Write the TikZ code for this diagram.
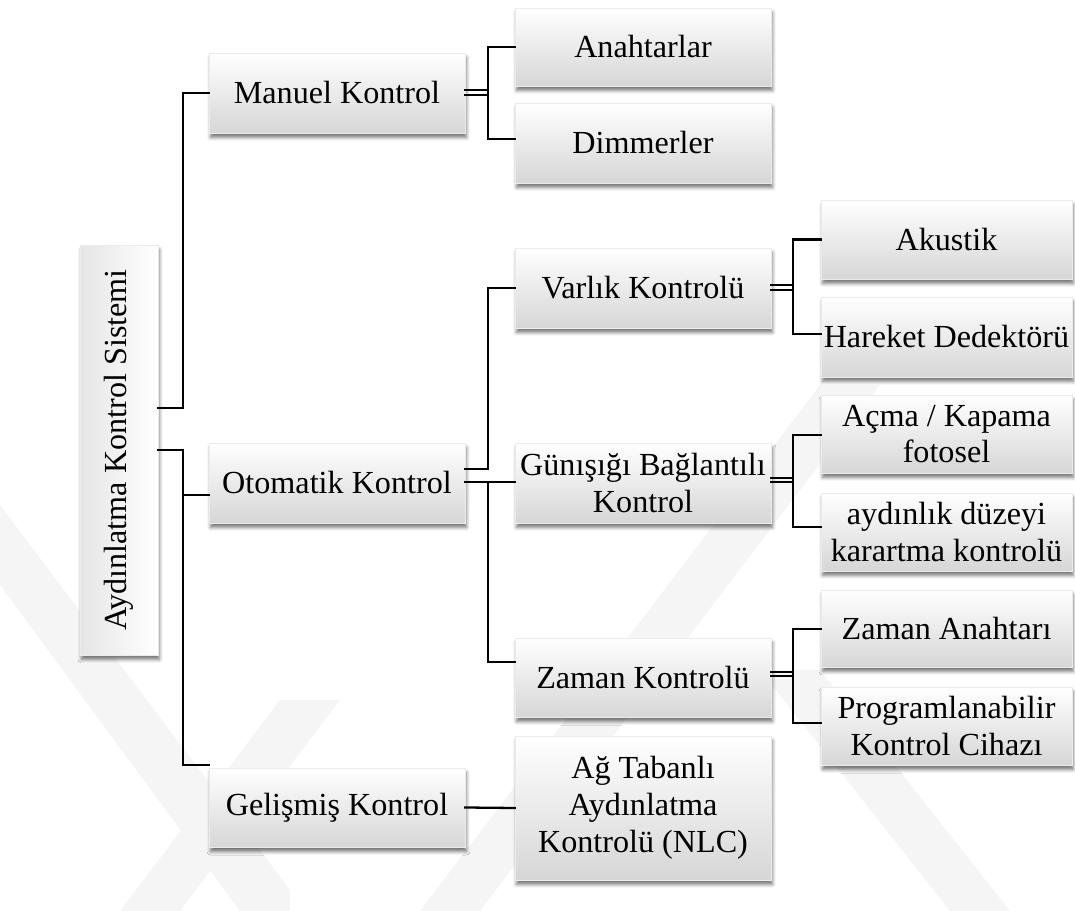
\documentclass[tikz,border=0pt]{standalone}
\usepackage{fontspec}
\setmainfont{Liberation Serif}
\newfontfamily\tnrfont{Liberation Serif}
\usetikzlibrary{shadows.blur}
\tikzset{
  box/.style={minimum width=5.12cm, minimum height=1.6cm, inner sep=1pt,
    align=center, font=\tnrfont\fontsize{18.3}{21}\selectfont,
    top color=white, bottom color=black!16, draw=black!8, line width=0.3pt,
    blur shadow={shadow xshift=0.03cm, shadow yshift=-0.09cm, shadow blur radius=0.07cm, shadow opacity=55}},
  rbox/.style={box, minimum width=5.02cm},
  conn/.style={draw=black, line width=1.3pt, line cap=rect},
  wm/.style={fill=black!4, draw=none}
}
\begin{document}
\begin{tikzpicture}[x=0.02cm, y=-0.02cm]
\useasboundingbox (0,0) rectangle (1075,911);
% faint watermark bands
\fill[wm] (0,505) -- (290,890) -- (290,911) -- (240,911) -- (0,585) -- cycle;
\fill[wm] (420,911) -- (480,911) -- (880,385) -- (820,385) -- cycle;
\fill[wm] (760,670) -- (820,670) -- (1010,911) -- (950,911) -- cycle;
\fill[wm] (120,911) -- (180,911) -- (340,700) -- (280,700) -- cycle;

% nodes
\node[box, minimum width=1.56cm, minimum height=8.2cm, top color=black!10, bottom color=white, shading angle=90] (root) at (119,450) {};
\node[rotate=90, font=\tnrfont\fontsize{18.3}{21}\selectfont] (roottext) at (root.center) {Aydınlatma Kontrol Sistemi};

\node[box] (manuel) at (337,93) {Manuel Kontrol};
\node[box] (otomatik) at (337,483) {Otomatik Kontrol};
\node[box, minimum height=1.58cm] (gelismis) at (337,807.5) {Gelişmiş Kontrol};

\node[box, minimum height=1.56cm] (anahtarlar) at (643,47) {Anahtarlar};
\node[box] (dimmerler) at (643,143) {Dimmerler};
\node[box] (varlik) at (643,288) {Varlık Kontrolü};
\node[box] (gunisigi) at (643,483) {Günışığı Bağlantılı\\Kontrol};
\node[box, minimum height=1.58cm] (zaman) at (643,677.5) {Zaman Kontrolü};
\node[box, minimum height=2.88cm] (ag) at (643,808) {Ağ Tabanlı\\Aydınlatma\\Kontrolü (NLC)};

\node[rbox, minimum height=1.58cm] (akustik) at (946.5,239.5) {Akustik};
\node[rbox] (hareket) at (946.5,337) {Hareket Dedektörü};
\node[rbox, minimum height=1.56cm] (acma) at (946.5,434) {Açma / Kapama\\fotosel};
\node[rbox, minimum height=1.56cm] (aydinlik) at (946.5,532) {aydınlık düzeyi\\karartma kontrolü};
\node[rbox, minimum height=1.54cm] (zamanan) at (946.5,628.5) {Zaman Anahtarı};
\node[rbox, minimum height=1.56cm] (prog) at (946.5,726) {Programlanabilir\\Kontrol Cihazı};

% connectors: root
\draw[conn] ([yshift=0.84cm]root.east) -- ++(25,0) |- (manuel.west);
\draw[conn] (root.east) -- ++(25,0) |- ([yshift=0.85cm]gelismis.west);
\draw[conn] ([yshift=-0.24cm]otomatik.west) -- ++(-26,0);

% manuel
\draw[conn] ([yshift=0.055cm]manuel.east) -- ++(23,0);
\draw[conn] ([yshift=-0.035cm]manuel.east) -- ++(23,0);
\draw[conn] (anahtarlar.west) -- ++(-27,0) |- ([yshift=0.08cm]dimmerler.west);

% otomatik
\draw[conn] ([yshift=0.28cm]otomatik.east) -- ++(23,0) |- (varlik.west);
\draw[conn] ([yshift=0.02cm]otomatik.east) -- ([yshift=0.02cm]gunisigi.west);
\draw[conn] ([yshift=0.02cm]gunisigi.west) ++(-27,0) |- ([yshift=0.31cm]zaman.west);

% varlik
\draw[conn] ([yshift=0.055cm]varlik.east) -- ++(22,0);
\draw[conn] ([yshift=-0.035cm]varlik.east) -- ++(22,0);
\draw[conn] (akustik.west) -- ++(-28,0) |- ([yshift=0.06cm]hareket.west);

% gunisigi
\draw[conn] ([yshift=0.105cm]gunisigi.east) -- ++(22,0);
\draw[conn] ([yshift=0.015cm]gunisigi.east) -- ++(22,0);
\draw[conn] ([yshift=-0.02cm]acma.west) -- ++(-28,0) |- ([yshift=0.1cm]aydinlik.west);

% zaman
\draw[conn] ([yshift=0.115cm]zaman.east) -- ++(22,0);
\draw[conn] ([yshift=0.025cm]zaman.east) -- ++(22,0);
\draw[conn] ([yshift=-0.01cm]zamanan.west) -- ++(-28,0) |- ([yshift=0.06cm]prog.west);

% gelismis
\draw[conn] (gelismis.east) -- (ag.west);
\end{tikzpicture}
\end{document}
